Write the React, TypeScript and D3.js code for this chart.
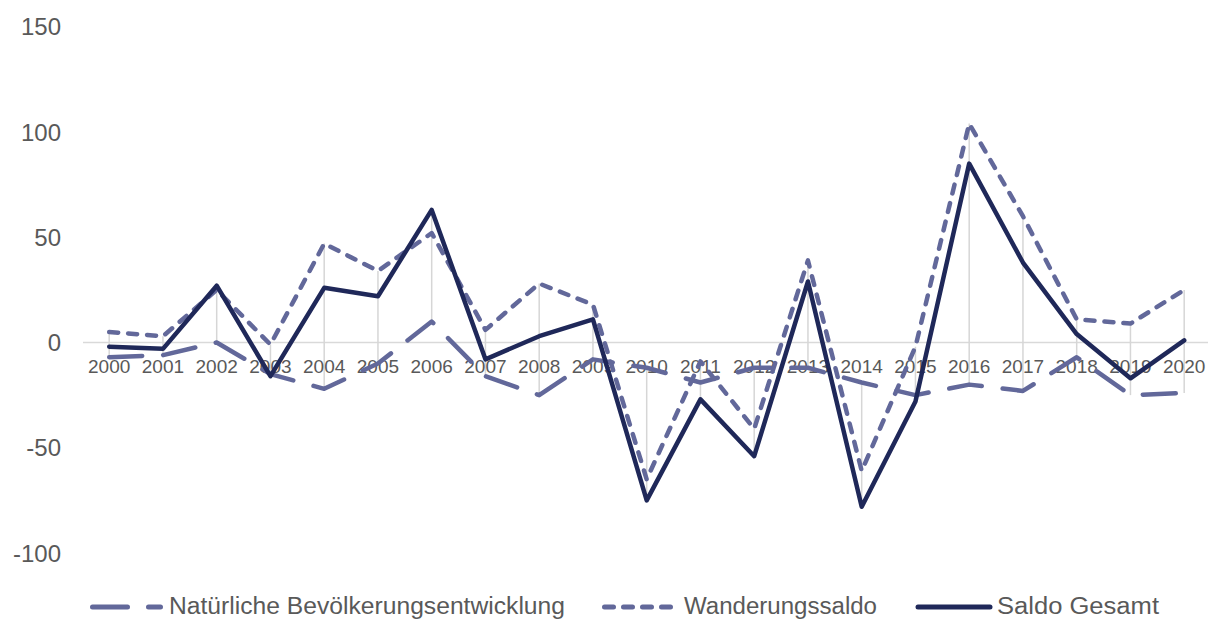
import React from "react";
import * as d3 from "d3";

// Years on the category axis
const years = [
  "2000", "2001", "2002", "2003", "2004", "2005", "2006", "2007", "2008", "2009", "2010",
  "2011", "2012", "2013", "2014", "2015", "2016", "2017", "2018", "2019", "2020",
];

// Natural population change (births minus deaths)
const natuerliche = [-7, -6, 0, -15, -22, -10, 10, -16, -25, -8, -12, -19, -12, -12, -19, -25, -20, -23, -7, -25, -24];
// Net migration
const wanderung = [5, 3, 25, -1, 47, 34, 52, 6, 28, 18, -65, -9, -41, 39, -61, -2, 104, 60, 11, 9, 25];
// Overall balance
const gesamt = [-2, -3, 27, -16, 26, 22, 63, -8, 3, 11, -75, -27, -54, 29, -78, -28, 85, 38, 4, -17, 1];

const yTicks = [150, 100, 50, 0, -50, -100];

const seriesNames = ["Natürliche Bevölkerungsentwicklung", "Wanderungssaldo", "Saldo Gesamt"];

const W = 1208;
const H = 619;
const FONT = "'Liberation Sans', Arial, Helvetica, sans-serif";
const TEXT = "#595959";
const DASHED = "#62689a";
const SOLID = "#1f2859";

export default function App() {
  const x = d3.scalePoint<string>().domain(years).range([109.2, 1184.2]);
  const y = d3.scaleLinear().domain([-100, 150]).range([553, 26.8]);

  const line = d3
    .line<number>()
    .x((_, i) => x(years[i]) as number)
    .y((d) => y(d));

  const series = [
    { name: seriesNames[0], values: natuerliche, color: DASHED, dash: "33 21", legendDash: "35 21", width: 4.5 },
    { name: seriesNames[1], values: wanderung, color: DASHED, dash: "9 10", legendDash: "9 10", width: 4.5 },
    { name: seriesNames[2], values: gesamt, color: SOLID, dash: null as string | null, legendDash: null as string | null, width: 4.5 },
  ];

  // legend layout: [line start, line end, text start, text end]
  const legend = [
    { s: 92.5, e: 160.5, t: 169, te: 565 },
    { s: 604.5, e: 676, t: 684, te: 877 },
    { s: 918, e: 990, t: 997, te: 1159 },
  ];

  return (
    <svg
      width={W}
      height={H}
      style={{ position: "absolute", left: 0, top: 0, background: "#fff" }}
      fontFamily={FONT}
    >
      <rect width={W} height={H} fill="#fff" />

      {/* zero line */}
      <line x1={83} x2={W} y1={y(0)} y2={y(0)} stroke="#d9d9d9" strokeWidth={1.5} />

      {/* high-low lines */}
      {years.map((yr, i) => {
        const vals = [natuerliche[i], wanderung[i], gesamt[i]];
        const hi = d3.max(vals) as number;
        const lo = d3.min(vals) as number;
        return (
          <line
            key={"hl" + yr}
            x1={x(yr)}
            x2={x(yr)}
            y1={y(hi)}
            y2={y(lo)}
            stroke="#d6d6d6"
            strokeWidth={1.5}
          />
        );
      })}

      {/* y axis labels */}
      {yTicks.map((t) => (
        <text
          key={"yt" + t}
          x={61}
          y={y(t)}
          dy="0.36em"
          textAnchor="end"
          fontSize={24}
          fill={TEXT}
        >
          {t}
        </text>
      ))}

      {/* x axis labels */}
      {years.map((yr) => (
        <text key={"xt" + yr} x={x(yr)} y={373} textAnchor="middle" fontSize={19} fill={TEXT}>
          {yr}
        </text>
      ))}

      {/* series */}
      {series.map((s) => (
        <path
          key={s.name}
          d={line(s.values) || ""}
          fill="none"
          stroke={s.color}
          strokeWidth={s.width}
          strokeDasharray={s.dash || undefined}
          strokeLinecap="round"
          strokeLinejoin="round"
        />
      ))}

      {/* legend */}
      {series.map((s, i) => {
        const L = legend[i];
        return (
          <g key={"lg" + s.name}>
            <line
              x1={L.s}
              x2={L.e}
              y1={607}
              y2={607}
              stroke={s.color}
              strokeWidth={5}
              strokeDasharray={s.legendDash || undefined}
              strokeLinecap="round"
            />
            <text
              x={L.t}
              y={614}
              fontSize={23}
              fill={TEXT}
              textLength={L.te - L.t}
              lengthAdjust="spacingAndGlyphs"
            >
              {s.name}
            </text>
          </g>
        );
      })}
    </svg>
  );
}
